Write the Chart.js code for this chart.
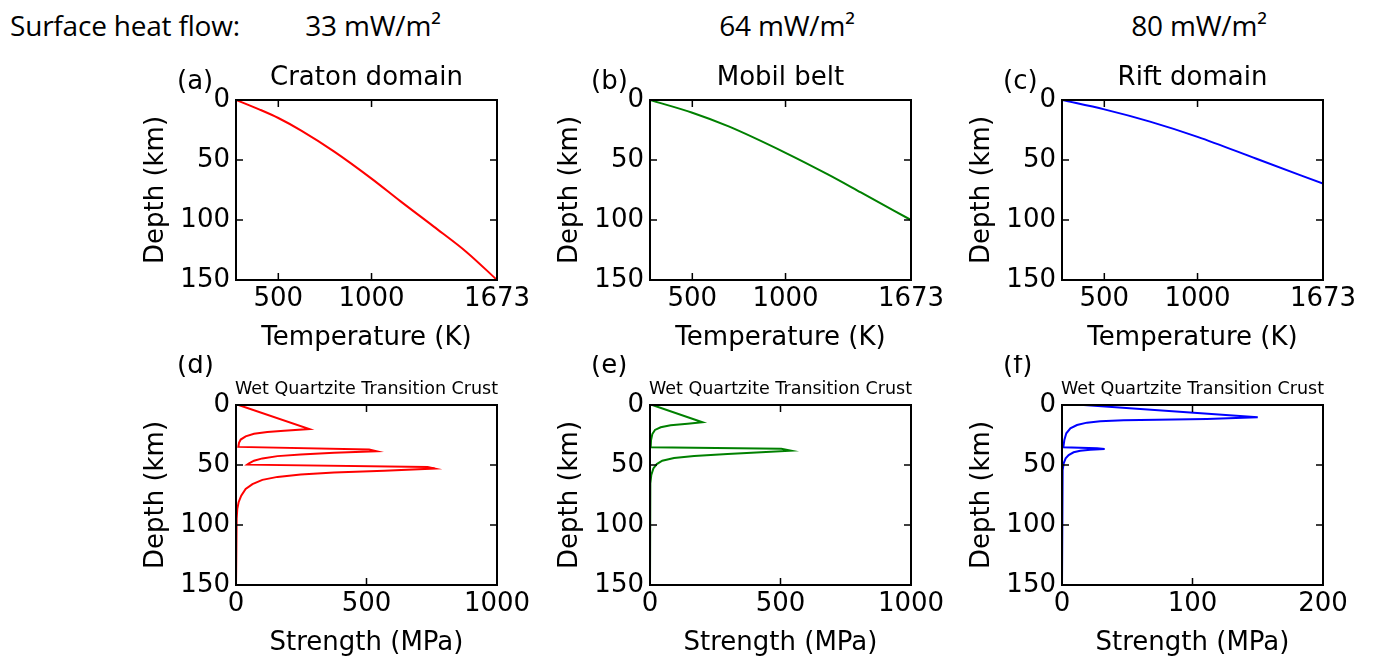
<!DOCTYPE html>
<html>
<head>
<meta charset="utf-8">
<script src="https://cdn.jsdelivr.net/npm/chart.js@4.4.1/dist/chart.umd.min.js"></script>
<style>
    body { margin: 0; background: #fff; width: 1377px; height: 660px; position: relative; overflow: hidden; }
    canvas { position: absolute; }
    .head { position: absolute; top: 11px; font-family: "Open Sans"; font-size: 28px; line-height: 29px; letter-spacing: -0.2px; color: #000; white-space: nowrap; }
</style>
</head>
<body>
<div class="head" style="left:10px">Surface heat flow:</div>
<canvas id="pa" width="411" height="310" style="left:126px;top:50px"></canvas>
<canvas id="pb" width="411" height="310" style="left:540px;top:50px"></canvas>
<canvas id="pc" width="411" height="310" style="left:952px;top:50px"></canvas>
<canvas id="pd" width="411" height="310" style="left:126px;top:355px"></canvas>
<canvas id="pe" width="411" height="310" style="left:540px;top:355px"></canvas>
<canvas id="pf" width="411" height="310" style="left:952px;top:355px"></canvas>
<script>
// labels
const domains = ["Craton domain", "Mobil belt", "Rift domain"];
const heatFlow = ["33 mW/m²", "64 mW/m²", "80 mW/m²"];
const letters = ["(a)", "(b)", "(c)", "(d)", "(e)", "(f)"];
const strengthTitle = "Wet Quartzite Transition Crust";
const colors = ["#ff0000", "#008000", "#0000ff"];

// tick labels
const depthTicks = [0, 50, 100, 150];
const tempTicks = [500, 1000, 1673];
const strengthTicks = [[0, 500, 1000], [0, 500, 1000], [0, 100, 200]];

// geotherms (K, km)
const cratonTemp       = [273, 400, 500, 623, 800, 1000, 1156, 1334, 1512, 1673];
const cratonTempDepth  = [0, 8, 15, 25.5, 43, 65.5, 84.5, 105.5, 127, 150];
const mobilTemp        = [273, 500, 695, 1000, 1227, 1404, 1673];
const mobilTempDepth   = [0, 10.6, 22, 44, 62, 77, 100];
const riftTemp         = [273, 500, 745, 1000, 1316, 1673];
const riftTempDepth    = [0, 7.8, 18, 30.7, 49, 69.7];

// strength envelopes (MPa, km)
const cratonStrength = [
    10, 281, 184, 120, 69, 37, 18, 11.5, 9,
    510, 538, 376, 248, 159, 101, 69, 50, 43,
    734, 762, 568, 376, 248, 159, 101, 63, 37, 20, 10, 5, 2.5, 0, 0];
const cratonStrengthDepth = [
    0, 20.1, 21.4, 22.5, 23.9, 26.1, 28.8, 31.6, 34.9,
    37.1, 38.5, 39.8, 41.2, 42.6, 44.5, 46.4, 48.6, 49.7,
    51.6, 53, 54.7, 56.3, 58, 59.9, 62.4, 65.9, 70, 75.5, 81, 86.5, 94.8, 105, 150];
const mobilStrength = [
    9, 201, 144, 79, 41, 19, 9, 4, 2.6,
    503, 541, 426, 297, 169, 92, 47, 26, 13, 5, 1.3, 0, 0];
const mobilStrengthDepth = [
    0, 14.4, 15.6, 16.9, 18.6, 20.8, 24.2, 29.2, 35.3,
    36.4, 38.1, 39.4, 40.8, 42.5, 44.2, 46.4, 49.2, 52.8, 58.3, 65.3, 70.8, 150];
const riftStrength = [
    16.6, 150, 111, 72.7, 47.2, 29.3, 19.1, 11.5, 6.4, 3.3, 1.8, 1.0,
    26.8, 32.7, 21.7, 14, 8.9, 5.1, 2.8, 1.3, 0.5, 0, 0];
const riftStrengthDepth = [
    0, 10.3, 11.7, 12.2, 12.8, 13.6, 14.7, 16.7, 19.4, 23.6, 29.2, 35.3,
    36.1, 36.7, 37.2, 38.1, 39.4, 41.7, 44.4, 48.6, 54.2, 62.5, 150];

const FONT = "DejaVu Sans";

// frame, inward ticks, panel titles
const framePlugin = {
    id: "frame",
    afterDatasetsDraw(chart, args, opts)
    {
        const { ctx, chartArea: a } = chart;
        const sx = chart.scales.x, sy = chart.scales.y;

        ctx.save();
        ctx.strokeStyle = "#000";
        ctx.lineWidth = 1.5;
        ctx.beginPath();
        sx.ticks.forEach(t => {
            const px = sx.getPixelForValue(t.value);
            ctx.moveTo(px, a.bottom); ctx.lineTo(px, a.bottom - 7);
            ctx.moveTo(px, a.top);    ctx.lineTo(px, a.top + 7);
        });
        sy.ticks.forEach(t => {
            const py = sy.getPixelForValue(t.value);
            ctx.moveTo(a.left, py);  ctx.lineTo(a.left + 7, py);
            ctx.moveTo(a.right, py); ctx.lineTo(a.right - 7, py);
        });
        ctx.stroke();

        ctx.lineWidth = 2;
        ctx.strokeRect(a.left, a.top, a.right - a.left, a.bottom - a.top);

        ctx.fillStyle = "#000";
        ctx.textBaseline = "middle";
        ctx.textAlign = "center";
        ctx.font = opts.titleSize + "px '" + FONT + "'";
        ctx.fillText(opts.title, (a.left + a.right) / 2, a.top - opts.titleGap);

        ctx.textAlign = "left";
        ctx.font = "26px '" + FONT + "'";
        ctx.fillText(opts.letter, a.left - 59, a.top - opts.letterGap);
        ctx.restore();
    }
};

const makeAxis = (ticks, min, max, title, horizontal, reverse) => ({
    type: "linear",
    position: horizontal ? "bottom" : "left",
    min: min,
    max: max,
    reverse: reverse,
    grid: { display: false, drawTicks: false, tickLength: 0 },
    border: { display: false },
    afterBuildTicks: scale => { scale.ticks = ticks.map(v => ({ value: v })); },
    afterFit: scale => {
        if (horizontal) {
            scale.height = 80;
            scale.paddingLeft = 0;
            scale.paddingRight = 0;
        } else {
            scale.width = 110;
            scale.paddingTop = 0;
            scale.paddingBottom = 0;
        }
    },
    ticks: {
        autoSkip: false,
        maxRotation: 0,
        minRotation: 0,
        padding: horizontal ? 4 : 6,
        color: "#000",
        font: { family: FONT, size: 26 },
        callback: v => String(v)
    },
    title: {
        display: true,
        text: title,
        color: "#000",
        font: { family: FONT, size: 26 },
        padding: horizontal ? { top: 0, bottom: 6 } : { top: 15, bottom: 0 }
    }
});

const makePanel = (id, xs, ys, color, xTicks, xMin, xMax, xTitle, title, titleSize, titleGap, letter, letterGap, smooth) =>
{
    new Chart(document.getElementById(id), {
        type: "scatter",
        data: {
            datasets: [{
                data: xs.map((x, i) => ({ x: x, y: ys[i] })),
                showLine: true,
                borderColor: color,
                borderWidth: 2,
                pointRadius: 0,
                fill: false,
                cubicInterpolationMode: smooth ? "monotone" : "default",
                tension: 0
            }]
        },
        options: {
            responsive: false,
            animation: false,
            layout: { padding: { top: 50, right: 40, left: 0, bottom: 0 } },
            plugins: {
                legend: { display: false },
                tooltip: { enabled: false },
                frame: { title: title, titleSize: titleSize, titleGap: titleGap, letter: letter, letterGap: letterGap }
            },
            scales: {
                x: makeAxis(xTicks, xMin, xMax, xTitle, true, false),
                y: makeAxis(depthTicks, 0, 150, "Depth (km)", false, true)
            }
        },
        plugins: [framePlugin]
    });
};

const tempX  = [cratonTemp, mobilTemp, riftTemp];
const tempY  = [cratonTempDepth, mobilTempDepth, riftTempDepth];
const strX   = [cratonStrength, mobilStrength, riftStrength];
const strY   = [cratonStrengthDepth, mobilStrengthDepth, riftStrengthDepth];
const strMax = [1000, 1000, 200];
const topIds = ["pa", "pb", "pc"];
const botIds = ["pd", "pe", "pf"];
const plotLeft = [236, 650, 1062];

for (let i = 0; i < 3; i++)
{
    makePanel(topIds[i], tempX[i], tempY[i], colors[i], tempTicks, 273, 1673,
        "Temperature (K)", domains[i], 26, 22, letters[i], 18, true);
    makePanel(botIds[i], strX[i], strY[i], colors[i], strengthTicks[i], 0, strMax[i],
        "Strength (MPa)", strengthTitle, 17.5, 16, letters[i + 3], 39, false);

    const div = document.createElement("div");
    div.className = "head";
    div.textContent = heatFlow[i];
    div.style.left = (plotLeft[i] + 137) + "px";
    div.style.transform = "translateX(-50%)";
    document.body.appendChild(div);
}
</script>
</body>
</html>
